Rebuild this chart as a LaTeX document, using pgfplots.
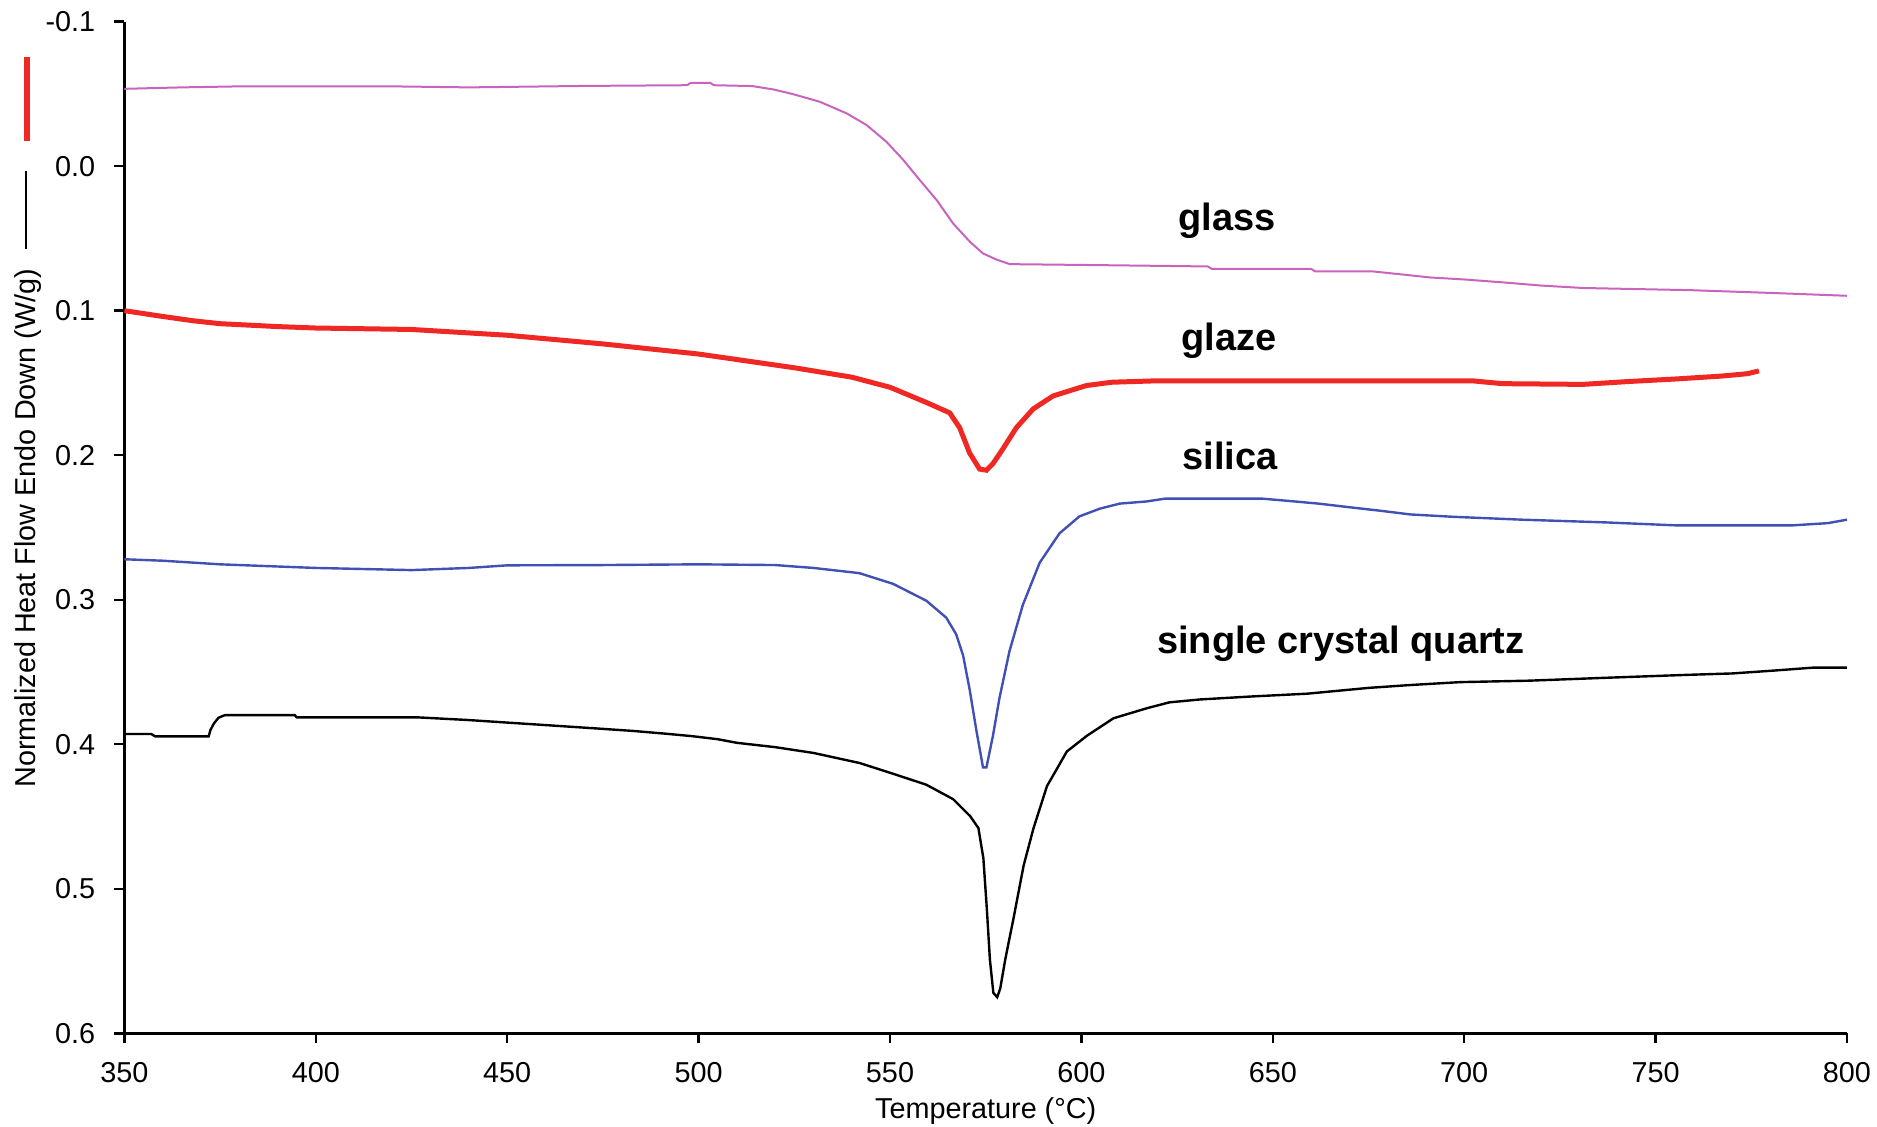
\documentclass[border=0pt]{standalone}
\usepackage{fontspec}
\setmainfont{Liberation Sans}
\usepackage{pgfplots}
\pgfplotsset{compat=1.18}
\definecolor{glasscol}{RGB}{200,100,190}
\definecolor{glazecol}{RGB}{240,40,35}
\definecolor{silicacol}{RGB}{65,80,180}
\begin{document}
\begin{tikzpicture}
\useasboundingbox (-31.1pt,-23.25pt) rectangle (438.1pt,258.3pt);
\begin{axis}[
  at={(0,0)}, anchor=south west,
  scale only axis, width=430.6pt, height=252.9pt,
  xmin=350, xmax=800, ymin=-0.1, ymax=0.6,
  y dir=reverse,
  axis x line*=bottom, axis y line*=left,
  axis line style={-, line width=0.6pt},
  tick align=outside, major tick length=2.5pt,
  tick style={line width=0.6pt, black},
  xtick={350,400,...,800},
  xticklabels={350,400,450,500,550,600,650,700,750,800},
  ytick={-0.1,0,0.1,0.2,0.3,0.4,0.5,0.6},
  yticklabels={-0.1,0.0,0.1,0.2,0.3,0.4,0.5,0.6},
  ticklabel style={font=\fontsize{7.2}{8}\selectfont},
  xticklabel style={anchor=center, yshift=-7.4pt},
  yticklabel style={anchor=east, inner sep=0pt, xshift=-4.6pt},
  xlabel={Temperature (°C)},
  xlabel style={font=\fontsize{7.2}{8}\selectfont, at={(axis description cs:0.5,0)}, anchor=center, yshift=-19.5pt},
  ylabel={Normalized Heat Flow Endo Down (W/g)\hspace{5pt}\textcolor{black}{\rule[0.3em]{19.5pt}{0.5pt}}\hspace{7.5pt}\textcolor{glazecol}{\rule[0.2em]{21pt}{1.4pt}}},
  ylabel style={font=\fontsize{7.2}{8}\selectfont, at={(axis description cs:-0.056,0.229)}, anchor=west},
  clip=false,
]
\addplot[glasscol, line width=0.5pt] coordinates {
(350,-0.0535)(365,-0.0545)(380,-0.0552)(420,-0.0552)(440,-0.0545)(470,-0.0555)(497,-0.056)(498,-0.0577)(503,-0.0577)(504,-0.056)(514,-0.0554)(519.5,-0.0531)(524.7,-0.0498)(531.7,-0.0445)(538.7,-0.0365)(543.9,-0.0284)(549.1,-0.0168)(553.5,-0.0042)(557.8,0.0097)(562.2,0.0235)(566.5,0.0397)(570.9,0.0524)(574.3,0.0604)(577.8,0.0646)(581.3,0.0678)(605,0.0685)(633,0.0694)(634,0.071)(660,0.071)(661,0.0728)(676,0.0728)(684,0.075)(691,0.077)(700,0.0784)(710,0.0804)(720,0.0826)(731,0.0843)(759,0.0858)(781,0.0878)(800,0.0897)
};
\addplot[glazecol, line width=1.25pt] coordinates {
(350,0.1)(355,0.102)(360,0.104)(368,0.107)(375,0.109)(390,0.111)(400,0.112)(425,0.113)(450,0.117)(475,0.123)(500,0.130)(525,0.1395)(540,0.146)(550,0.153)(559.5,0.1635)(565.6,0.1707)(568.2,0.181)(570.8,0.1985)(573.4,0.2096)(575.2,0.2104)(576.9,0.2058)(579.5,0.1956)(583,0.181)(587.4,0.168)(592.6,0.159)(601.3,0.1518)(608,0.1495)(620,0.1485)(702,0.1485)(710,0.1505)(731,0.151)(743,0.149)(755,0.1473)(767,0.1453)(774,0.1436)(777,0.1417)
};
\addplot[silicacol, line width=0.6pt] coordinates {
(350,0.272)(360,0.273)(375,0.2755)(400,0.278)(425,0.2795)(440,0.278)(450,0.2762)(475,0.276)(500,0.2755)(520,0.276)(530,0.278)(542,0.2816)(550.8,0.289)(559.5,0.3007)(564.7,0.3124)(567.3,0.324)(569.1,0.3386)(570.8,0.362)(572.6,0.391)(574.3,0.416)(575.2,0.416)(576.9,0.394)(578.6,0.368)(581.2,0.3357)(584.7,0.3036)(589.1,0.2744)(594.3,0.254)(599.5,0.2423)(604.8,0.237)(610,0.2335)(617,0.232)(622,0.230)(647,0.230)(654,0.2316)(662,0.2335)(670,0.236)(678,0.2384)(686,0.241)(697,0.2426)(715,0.2446)(737,0.2465)(755,0.2485)(786,0.2485)(795,0.247)(800,0.2446)
};
\addplot[black, line width=0.6pt] coordinates {
(350,0.3929)(357,0.3929)(358,0.3945)(372,0.3945)(372.5,0.39)(373.4,0.3855)(374.6,0.3816)(376.3,0.3798)(394.5,0.3798)(395,0.3814)(426.7,0.3814)(439.6,0.3832)(450,0.385)(461,0.3869)(473,0.389)(483,0.3908)(491,0.3926)(498,0.3943)(505,0.3965)(510,0.399)(520,0.402)(530,0.406)(542.1,0.413)(550.8,0.4204)(559.5,0.428)(566.5,0.438)(570.9,0.4496)(573.1,0.458)(574.4,0.479)(575.3,0.514)(576.1,0.549)(577,0.572)(578,0.575)(578.8,0.569)(580.1,0.549)(582.3,0.52)(584.9,0.484)(587.5,0.458)(591,0.429)(596.2,0.405)(601.5,0.394)(608.4,0.382)(617.2,0.375)(623,0.371)(631,0.369)(644,0.367)(659,0.365)(667,0.363)(675,0.361)(686,0.359)(699,0.357)(717,0.356)(737,0.354)(758,0.352)(770,0.351)(781,0.349)(791,0.347)(800,0.347)
};
\node[font=\bfseries\fontsize{9.5}{10}\selectfont] at (axis cs:638,0.038) {glass};
\node[font=\bfseries\fontsize{9.5}{10}\selectfont] at (axis cs:638.6,0.1205) {glaze};
\node[font=\bfseries\fontsize{9.5}{10}\selectfont] at (axis cs:638.8,0.2005) {silica};
\node[font=\bfseries\fontsize{9.5}{10}\selectfont] at (axis cs:667.8,0.3305) {single crystal quartz};
\end{axis}
\end{tikzpicture}
\end{document}
